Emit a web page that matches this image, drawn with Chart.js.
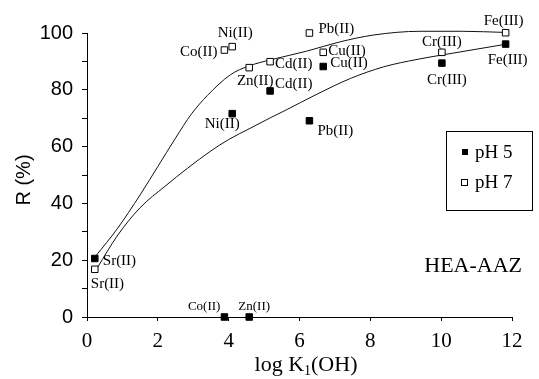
<!DOCTYPE html>
<html>
<head>
<meta charset="utf-8">
<script src="https://cdn.jsdelivr.net/npm/chart.js@4/dist/chart.umd.min.js"></script>
<style>
  html, body { margin: 0; padding: 0; background: #fff; }
  canvas { display: block; }
</style>
</head>
<body>
<canvas id="removalChart" width="539" height="379"></canvas>
<script>
// -------- DATA --------
const metals = ["Sr(II)", "Co(II)", "Ni(II)", "Zn(II)", "Cd(II)", "Pb(II)", "Cu(II)", "Cr(III)", "Fe(III)"];
const logK1 = [0.22, 3.88, 4.1, 4.58, 5.17, 6.28, 6.67, 10.02, 11.82];
const removalPH5 = [20.6, 0, 71.6, 0, 79.6, 69.1, 88.2, 89.4, 96.1];
const removalPH7 = [16.8, 94.0, 95.2, 87.8, 89.9, 100.0, 93.2, 93.2, 100.1];

// hand-drawn trend curves through each series
const curve7X = [0.25, 0.85, 1.5, 2.0, 2.5, 2.95, 3.4, 4.05, 4.55, 5.2, 6.2, 7.15, 8.1, 9.4, 10.6, 11.8];
const curve7Y = [21.5, 31, 43, 53, 63, 71.5, 78, 85.3, 88.3, 90.6, 93.6, 96.9, 99.3, 100.6, 100.6, 100.2];
const curve5X = [0.3, 0.85, 1.5, 2.2, 2.85, 3.5, 4.0, 4.6, 5.2, 5.56, 6.5, 7.44, 8.38, 9.32, 10.0, 11.8];
const curve5Y = [17.5, 28.5, 38.5, 46, 52.5, 58.5, 62.5, 66.4, 70.3, 72.5, 78.5, 84, 88.1, 90.7, 92.2, 96];

const xTicks = [0, 2, 4, 6, 8, 10, 12];
const yTicks = [0, 20, 40, 60, 80, 100];

// label placement per metal: [dx, dy, align, small]
const labelPos5 = [
    [8, 3, "left"], [-4, -10, "right", true], [-10, 10, "center"], [5, -10, "center", true],
    [5, -7, "left"], [8, 10, "left"], [7, -3, "left"], [5, 17, "center"], [2, 16, "center"]
];
const labelPos7 = [
    [-4, 15, "left"], [-7, 2, "right"], [3, -14, "center"], [6, 13, "center"],
    [5, 2, "left"], [9, -4, "left"], [5, -1, "left"], [0, -10, "center"], [-2, -12, "center"]
];

const SERIF = "'Liberation Serif', 'Times New Roman', serif";
const SANS = "'Liberation Sans', Arial, sans-serif";

const toPoints = (xs, ys) => xs.map((x, i) => ({ x: x, y: ys[i] }));

// -------- PLUGIN: point labels, legend box, titles --------
const annotations = {
    id: "annotations",
    afterDraw(chart) {
        const ctx = chart.ctx;
        const xs = chart.scales.x;
        const ys = chart.scales.y;
        ctx.save();
        ctx.fillStyle = "#000";
        ctx.textBaseline = "middle";

        const drawLabels = (values, pos) => {
            metals.forEach((name, i) => {
                const p = pos[i];
                ctx.font = (p[3] ? "13px " : "15px ") + SERIF;
                ctx.textAlign = p[2];
                ctx.fillText(name, xs.getPixelForValue(logK1[i]) + p[0], ys.getPixelForValue(values[i]) + p[1]);
            });
        };
        drawLabels(removalPH5, labelPos5);
        drawLabels(removalPH7, labelPos7);

        // legend
        ctx.strokeStyle = "#000";
        ctx.lineWidth = 1;
        ctx.strokeRect(446.5, 131.5, 86, 79);
        ctx.fillRect(462, 149, 6, 6);
        ctx.fillStyle = "#fff";
        ctx.fillRect(461.5, 179.5, 6, 6);
        ctx.strokeRect(461.5, 179.5, 6, 6);
        ctx.fillStyle = "#000";
        ctx.font = "19px " + SERIF;
        ctx.textAlign = "left";
        ctx.fillText("pH 5", 475, 153);
        ctx.fillText("pH 7", 475, 183);

        // sample name
        ctx.font = "22px " + SERIF;
        ctx.textAlign = "right";
        ctx.fillText("HEA-AAZ", 522, 266);

        // x title with subscript
        ctx.textAlign = "left";
        ctx.textBaseline = "alphabetic";
        const a = "log K", b = "(OH)";
        ctx.font = "22px " + SERIF;
        const wa = ctx.measureText(a).width;
        const wb = ctx.measureText(b).width;
        ctx.font = "14px " + SERIF;
        const ws = ctx.measureText("1").width;
        const x0 = 306 - (wa + ws + wb) / 2;
        const base = 371;
        ctx.font = "22px " + SERIF;
        ctx.fillText(a, x0, base);
        ctx.font = "14px " + SERIF;
        ctx.fillText("1", x0 + wa, base + 4);
        ctx.font = "22px " + SERIF;
        ctx.fillText(b, x0 + wa + ws, base);

        // y title
        ctx.translate(24, 180);
        ctx.rotate(-Math.PI / 2);
        ctx.textAlign = "center";
        ctx.textBaseline = "middle";
        ctx.font = "20px " + SANS;
        ctx.fillText("R (%)", 0, 0);
        ctx.restore();
    }
};

// -------- CHART --------
const ctx = document.getElementById("removalChart").getContext("2d");

new Chart(ctx, {
    type: "scatter",
    data: {
        datasets: [
            {
                label: "pH 5",
                data: toPoints(logK1, removalPH5),
                pointStyle: "rect",
                pointRadius: 4.6,
                backgroundColor: "#000",
                borderColor: "#000",
                borderWidth: 1,
                clip: false
            },
            {
                label: "pH 7",
                data: toPoints(logK1, removalPH7),
                pointStyle: "rect",
                pointRadius: 4.6,
                backgroundColor: "#fff",
                borderColor: "#000",
                borderWidth: 1,
                clip: false
            },
            {
                label: "trend pH 7",
                data: toPoints(curve7X, curve7Y),
                showLine: true,
                pointRadius: 0,
                borderColor: "#111",
                borderWidth: 1,
                cubicInterpolationMode: "monotone",
                clip: false
            },
            {
                label: "trend pH 5",
                data: toPoints(curve5X, curve5Y),
                showLine: true,
                pointRadius: 0,
                borderColor: "#111",
                borderWidth: 1,
                cubicInterpolationMode: "monotone",
                clip: false
            }
        ]
    },
    options: {
        responsive: false,
        animation: false,
        devicePixelRatio: 1,
        layout: { padding: { left: 0, right: 27, top: 33, bottom: 0 } },
        plugins: {
            legend: { display: false },
            tooltip: { enabled: false }
        },
        scales: {
            x: {
                type: "linear",
                min: 0,
                max: 12,
                afterFit: s => { s.height = 62; },
                afterBuildTicks: s => { s.ticks = xTicks.map(v => ({ value: v })); },
                border: { color: "#000", width: 1 },
                grid: { drawOnChartArea: false, tickLength: 4, color: "#000" },
                ticks: {
                    color: "#000",
                    padding: 8,
                    font: { family: SERIF, size: 21 }
                }
            },
            y: {
                type: "linear",
                min: 0,
                max: 100,
                afterFit: s => { s.width = 87; },
                border: { color: "#000", width: 1 },
                grid: { drawOnChartArea: false, tickLength: 5, color: "#000" },
                ticks: {
                    stepSize: 10,
                    color: "#000",
                    padding: 9,
                    font: { family: SANS, size: 20 },
                    callback: v => (yTicks.includes(v) ? v : "")
                }
            }
        }
    },
    plugins: [annotations]
});
</script>
</body>
</html>
